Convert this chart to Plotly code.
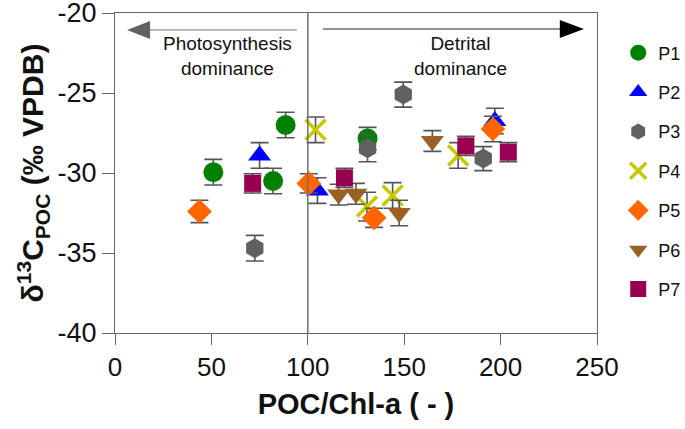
import plotly.graph_objects as go

# ---- data ----
series_names = ["P1", "P2", "P3", "P4", "P5", "P6", "P7"]

p1_x = [51, 82, 88.5, 131]
p1_y = [-29.95, -30.5, -27.0, -27.85]
p1_e = [0.8, 0.8, 0.8, 0.7]

p2_x = [75, 105, 197]
p2_y = [-28.9, -31.1, -26.75]
p2_e = [0.8, 0.8, 0.8]

p3_x = [72.5, 131, 149.5, 191]
p3_y = [-34.7, -28.45, -25.1, -29.1]
p3_e = [0.8, 0.85, 0.78, 0.75]

p4_x = [104, 130.7, 144, 178]
p4_y = [-27.3, -32.1, -31.4, -28.9]
p4_e = [0.8, 0.9, 0.8, 0.8]

p5_x = [43.8, 100.5, 134.4, 196]
p5_y = [-32.4, -30.65, -32.8, -27.25]
p5_e = [0.7, 0.6, 0.6, 0.8]

p6_x = [116, 125, 147.4, 164.6]
p6_y = [-31.35, -31.3, -32.5, -28.0]
p6_e = [0.65, 0.65, 0.8, 0.65]

p7_x = [71.4, 119, 182, 204]
p7_y = [-30.65, -30.3, -28.3, -28.7]
p7_e = [0.6, 0.6, 0.6, 0.6]

xs = [p1_x, p2_x, p3_x, p4_x, p5_x, p6_x, p7_x]
ys = [p1_y, p2_y, p3_y, p4_y, p5_y, p6_y, p7_y]
es = [p1_e, p2_e, p3_e, p4_e, p5_e, p6_e, p7_e]

colors = ["#008000", "#0000ff", "#606060", "#c8c800", "#ff6600", "#996125", "#990050"]
symbols = ["circle", "triangle-up", "hexagon", "x-thin-open", "diamond", "triangle-down", "square"]
sizes = [20, 20, 20, 20, 19, 20, 17]

x_ticks = [0, 50, 100, 150, 200, 250]
x_tick_labels = ["0", "50", "100", "150", "200", "250"]
y_ticks = [-40, -35, -30, -25, -20]
y_tick_labels = ["-40", "-35", "-30", "-25", "-20"]

FONT = "Arial, Liberation Sans, sans-serif"

fig = go.Figure()
for i, name in enumerate(series_names):
    marker = dict(color=colors[i], size=sizes[i], symbol=symbols[i])
    if symbols[i] == "x-thin-open":
        marker["line"] = dict(color=colors[i], width=3.5)
    else:
        marker["line"] = dict(width=0)
    fig.add_trace(go.Scatter(
        x=xs[i], y=ys[i], mode="markers", name=name,
        legendgroup=name,
        marker=marker,
        error_y=dict(type="data", array=es[i], visible=True,
                     color="#555555", thickness=1.6, width=9),
    ))

# divider line at x = 100
fig.add_shape(type="line", x0=100, x1=100, y0=-40, y1=-20, xref="x", yref="y",
              line=dict(color="#707070", width=1.5))

# arrows
fig.add_shape(type="line", x0=17.5, x1=94.3, y0=-21.06, y1=-21.06,
              line=dict(color="#909090", width=1.2))
fig.add_shape(type="path", path="M 6.25 -21.06 L 18.2 -20.5 L 18.2 -21.62 Z",
              fillcolor="#606060", line=dict(width=0))
fig.add_shape(type="line", x0=107.8, x1=231, y0=-21.0, y1=-21.0,
              line=dict(color="#222222", width=1.2))
fig.add_shape(type="path", path="M 243.2 -21.0 L 230.7 -20.44 L 230.7 -21.56 Z",
              fillcolor="#000000", line=dict(width=0))

fig.add_annotation(x=58.3, y=-22.66, text="Photosynthesis<br>dominance", showarrow=False,
                   font=dict(size=19, color="#111111", family=FONT), xref="x", yref="y")
fig.add_annotation(x=179.2, y=-22.66, text="Detrital<br>dominance", showarrow=False,
                   font=dict(size=19, color="#111111", family=FONT), xref="x", yref="y")

fig.update_layout(
    width=685, height=429,
    margin=dict(l=115, r=88, t=13, b=96, autoexpand=False),
    plot_bgcolor="white", paper_bgcolor="white",
    font=dict(family=FONT, color="#111111"),
    showlegend=True,
    legend=dict(x=1.044, y=0.933, xanchor="left", yanchor="top",
                font=dict(size=18, family=FONT), tracegroupgap=13,
                itemsizing="trace", bgcolor="rgba(0,0,0,0)"),
    xaxis=dict(range=[0, 250], tickvals=x_ticks, ticktext=x_tick_labels,
               ticks="outside", ticklen=11, automargin=False,
               tickcolor="#666666", tickwidth=1.2,
               showline=True, linecolor="#666666", linewidth=1.2, mirror=True,
               showgrid=False, zeroline=False, ticklabeloverflow="allow",
               tickfont=dict(size=26, family=FONT),
               title=dict(text="<b>POC/Chl-a ( - )</b>", font=dict(size=29, family=FONT),
                          standoff=12)),
    yaxis=dict(range=[-40, -20], tickvals=y_ticks, ticktext=y_tick_labels,
               ticks="outside", ticklen=12, automargin=False,
               tickcolor="#666666", tickwidth=1.2,
               showline=True, linecolor="#666666", linewidth=1.2, mirror=True,
               showgrid=False, zeroline=False, ticklabeloverflow="allow",
               tickfont=dict(size=27, family=FONT),
               title=dict(text="<b>δ<sup>13</sup>C<sub>POC</sub> (‰ VPDB)</b>",
                          font=dict(size=30, family=FONT), standoff=4)),
)

fig.write_html("out.html", config={"displayModeBar": False},
               post_script="document.body.style.margin='0';")
